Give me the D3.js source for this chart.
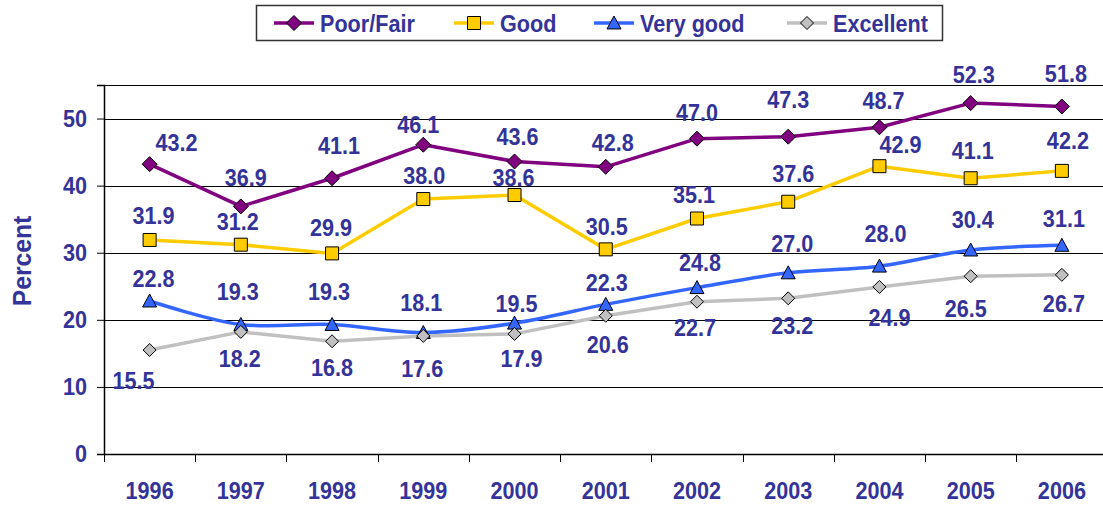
<!DOCTYPE html>
<html>
<head>
<meta charset="utf-8">
<script src="https://cdn.jsdelivr.net/npm/d3@7"></script>
<style>
  html, body { margin: 0; padding: 0; background: #fff; }
  svg { display: block; font-family: "Liberation Sans", Arial, sans-serif; }
</style>
</head>
<body>
<svg id="chart" width="1103" height="506"></svg>
<script>
// ---- data ----
const years = ["1996","1997","1998","1999","2000","2001","2002","2003","2004","2005","2006"];
const poorFair  = [43.2, 36.9, 41.1, 46.1, 43.6, 42.8, 47.0, 47.3, 48.7, 52.3, 51.8];
const good      = [31.9, 31.2, 29.9, 38.0, 38.6, 30.5, 35.1, 37.6, 42.9, 41.1, 42.2];
const veryGood  = [22.8, 19.3, 19.3, 18.1, 19.5, 22.3, 24.8, 27.0, 28.0, 30.4, 31.1];
const excellent = [15.5, 18.2, 16.8, 17.6, 17.9, 20.6, 22.7, 23.2, 24.9, 26.5, 26.7];
const seriesNames = ["Poor/Fair", "Good", "Very good", "Excellent"];
const yTicks = [0, 10, 20, 30, 40, 50];

// label placement offsets (px, relative to each point)
const offPoor = [[27,-22],[5,-29],[7,-33],[-5,-20],[3,-25],[7,-25],[0,-26],[0,-37],[4,-27],[3,-29],[4,-33]];
const offGood = [[4,-25],[-3,-23],[-1,-26],[1,-24],[-1,-18],[1,-23],[-3,-24],[5,-28],[21,-22],[2,-28],[6,-31]];
const offVery = [[4,-23],[-3,-33],[-3,-33],[-2,-30],[2,-20],[1,-22],[3,-25],[4,-30],[6,-33],[2,-31],[2,-27]];
const offExc  = [[-16,30],[-1,26],[0,26],[-1,32],[7,24],[2,29],[-2,26],[4,27],[10,30],[-5,32],[2,28]];

const series = [
  { name: seriesNames[0], values: poorFair,  offs: offPoor, color: "#800080", fill: "#800080", shape: "diamond",  size: 15, curve: d3.curveLinear },
  { name: seriesNames[1], values: good,      offs: offGood, color: "#FFCC00", fill: "#FFCC00", shape: "square",   size: 13, curve: d3.curveLinear },
  { name: seriesNames[2], values: veryGood,  offs: offVery, color: "#3366FF", fill: "#3366FF", shape: "triangle", size: 14, curve: d3.curveCatmullRom.alpha(0.5) },
  { name: seriesNames[3], values: excellent, offs: offExc,  color: "#C0C0C0", fill: "#C0C0C0", shape: "diamond",  size: 13, curve: d3.curveLinear }
];

const textColor = "#333399";
const FS = 24, SX = 0.9;
const svg = d3.select("#chart");

const pLeft = 104, pRight = 1107.5, pTop = 85, pBottom = 454;
const x = d3.scaleBand().domain(years).range([pLeft, pRight]);
const y = d3.scaleLinear().domain([0, 55]).range([pBottom, pTop]);
const cx = i => x(years[i]) + x.bandwidth() / 2;

// gridlines
svg.append("g").selectAll("line").data(yTicks.filter(t => t > 0).concat([55]))
  .join("line")
  .attr("x1", pLeft).attr("x2", 1103)
  .attr("y1", d => Math.round(y(d)) + 0.5).attr("y2", d => Math.round(y(d)) + 0.5)
  .attr("stroke", "#000").attr("stroke-width", 1);

// y axis
const yAxis = svg.append("g").attr("transform", `translate(${pLeft},0)`)
  .call(d3.axisLeft(y).tickValues(yTicks).tickSize(7).tickPadding(10).tickFormat(d3.format("d")));
yAxis.select(".domain").attr("stroke", "#000").attr("stroke-width", 1.5);
yAxis.selectAll(".tick line").attr("stroke", "#000");
yAxis.selectAll("text").attr("fill", textColor).attr("font-size", FS).attr("font-weight", "bold")
  .attr("font-family", "Liberation Sans, Arial, sans-serif")
  .attr("x", -19).attr("transform", `scale(${SX},1)`);

// x axis
const xAxis = svg.append("g").attr("transform", `translate(0,${pBottom})`)
  .call(d3.axisBottom(x).tickSize(0).tickPadding(28));
xAxis.select(".domain").attr("stroke", "#000").attr("stroke-width", 1.5);
xAxis.selectAll("text").attr("fill", textColor).attr("font-size", FS).attr("font-weight", "bold")
  .attr("font-family", "Liberation Sans, Arial, sans-serif")
  .attr("transform", `scale(${SX},1)`);
// tick marks between categories
svg.append("g").selectAll("line").data(years)
  .join("line")
  .attr("x1", d => Math.round(x(d)) + 0.5).attr("x2", d => Math.round(x(d)) + 0.5)
  .attr("y1", pBottom).attr("y2", pBottom + 8)
  .attr("stroke", "#000").attr("stroke-width", 1);

// y title
svg.append("text")
  .attr("transform", "translate(31,261) rotate(-90) scale(0.95,1)")
  .attr("text-anchor", "middle")
  .attr("fill", textColor).attr("font-size", 26).attr("font-weight", "bold")
  .text("Percent");

function markerPath(shape, s) {
  const h = s / 2;
  if (shape === "diamond") return `M0,${-h}L${h},0L0,${h}L${-h},0Z`;
  if (shape === "square") return `M${-h},${-h}H${h}V${h}H${-h}Z`;
  if (shape === "triangle") return `M0,${-h}L${h},${h*0.85}L${-h},${h*0.85}Z`;
  return "";
}

// lines
series.forEach(s => {
  const line = d3.line().x((d, i) => cx(i)).y(d => y(d)).curve(s.curve);
  svg.append("path").datum(s.values)
    .attr("d", line).attr("fill", "none")
    .attr("stroke", s.color).attr("stroke-width", 3.5).attr("stroke-linejoin", "round");
});
// markers
series.forEach(s => {
  svg.append("g").selectAll("path").data(s.values).join("path")
    .attr("transform", (d, i) => `translate(${cx(i)},${y(d)})`)
    .attr("d", markerPath(s.shape, s.size))
    .attr("fill", s.fill).attr("stroke", "#000").attr("stroke-width", 1);
});
// data labels
series.forEach(s => {
  svg.append("g").selectAll("text").data(s.values).join("text")
    .attr("transform", (d, i) => `translate(${cx(i) + s.offs[i][0]},${y(d) + s.offs[i][1]}) scale(${SX},1)`)
    .attr("dy", "0.36em")
    .attr("text-anchor", "middle")
    .attr("fill", textColor).attr("font-size", FS).attr("font-weight", "bold")
    .text(d => d.toFixed(1));
});

// legend
const lg = svg.append("g");
lg.append("rect").attr("x", 256.5).attr("y", 5.5).attr("width", 686).attr("height", 35)
  .attr("fill", "#fff").attr("stroke", "#333").attr("stroke-width", 1.5);
const legendX = [274, 454, 594, 787];
series.forEach((s, k) => {
  const g = lg.append("g").attr("transform", `translate(${legendX[k]},23)`);
  g.append("line").attr("x1", 0).attr("x2", 40).attr("y1", 0).attr("y2", 0)
    .attr("stroke", s.color).attr("stroke-width", 3.5);
  g.append("path").attr("transform", "translate(20,0)")
    .attr("d", markerPath(s.shape, s.size))
    .attr("fill", s.fill).attr("stroke", "#000").attr("stroke-width", 1);
  g.append("text").attr("transform", `translate(46,0) scale(${SX},1)`).attr("dy", "0.36em")
    .attr("fill", textColor).attr("font-size", FS).attr("font-weight", "bold")
    .text(s.name);
});
</script>
</body>
</html>
